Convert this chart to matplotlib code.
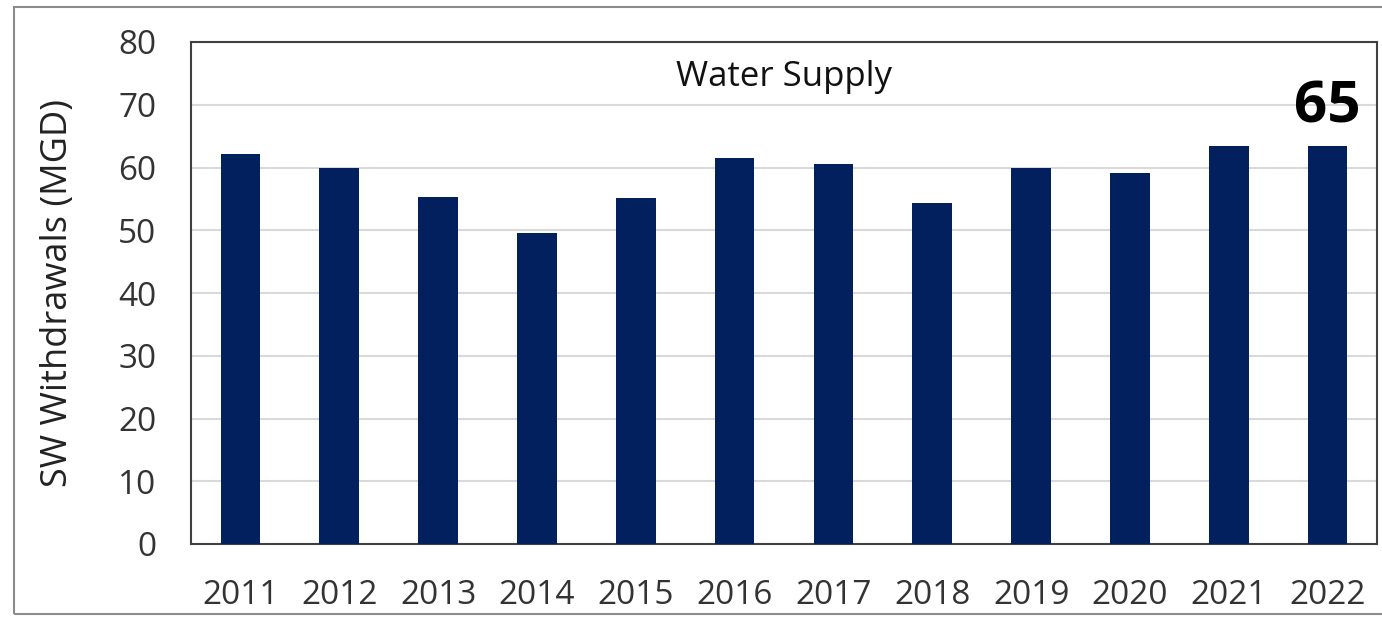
import matplotlib
matplotlib.use("Agg")
import matplotlib.pyplot as plt
from matplotlib.patches import Rectangle

years = ["2011", "2012", "2013", "2014", "2015", "2016", "2017", "2018", "2019", "2020", "2021", "2022"]
withdrawals = [62.1, 59.9, 55.3, 49.5, 55.1, 61.5, 60.5, 54.3, 59.9, 59.2, 63.4, 63.4]
y_ticks = [0, 10, 20, 30, 40, 50, 60, 70, 80]
title = "Water Supply"
ylabel = "SW Withdrawals (MGD)"
callout = "65"

plt.rcParams['font.family'] = ['Open Sans', 'DejaVu Sans']

W, H = 1382, 617
fig = plt.figure(figsize=(W / 100, H / 100), dpi=100)
ax = fig.add_axes([191 / W, 1 - 544 / H, (1377 - 191) / W, (544 - 42) / H])

x = list(range(len(years)))
ax.bar(x, withdrawals, width=0.4, color="#03205E", zorder=3)
ax.set_xlim(-0.5, len(years) - 0.5)
ax.set_ylim(0, 80)
ax.set_yticks(y_ticks)
ax.set_xticks(x)
ax.set_xticklabels(years)
ax.tick_params(axis='both', length=0, labelsize=24, colors="#333333")
ax.tick_params(axis='y', pad=25)
ax.tick_params(axis='x', pad=25)
ax.grid(axis='y', color="#D9D9D9", linewidth=1.5, zorder=0)
for s in ax.spines.values():
    s.set_color("#404040")
    s.set_linewidth(1.5)
ax.set_ylabel(ylabel, fontsize=26, color="#222222", labelpad=30)
ax.text(0.5, 0.93, title, transform=ax.transAxes, ha='center', va='center',
        fontsize=25, color="#111111")
ax.text(len(years) - 1, 69.5, callout, ha='center', va='center',
        fontsize=42, fontweight='bold', color="black")

fig.patches.append(Rectangle((14 / W, 1 - 614 / H), 1.0, (614 - 7) / H,
                             transform=fig.transFigure, fill=False,
                             edgecolor="#8C8C8C", linewidth=1.5))

fig.savefig("out.png", dpi=100)
